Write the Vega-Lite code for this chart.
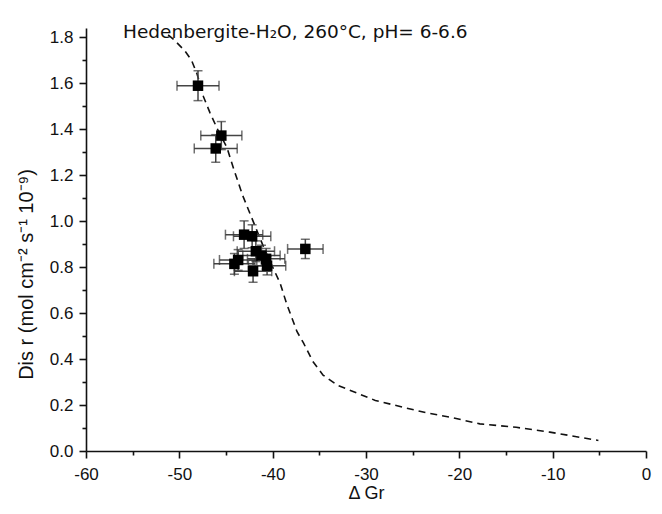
{
  "$schema": "https://vega.github.io/schema/vega-lite/v6.json",
  "width": 560,
  "height": 423,
  "autosize": "none",
  "padding": {"left": 86, "top": 28, "right": 16, "bottom": 63},
  "background": "white",
  "config": {"view": {"stroke": null}, "font": "Liberation Sans"},
  "title": {"text": "Hedenbergite-H₂O, 260°C, pH= 6-6.6", "anchor": "start", "frame": "group", "dx": 37, "dy": 20, "offset": -8, "baseline": "alphabetic", "fontSize": 18.5, "fontWeight": "normal", "font": "DejaVu Sans", "color": "#111"},
  "datasets": {
    "points": [
      {"dg": -48.0, "r": 1.589, "xlo": -50.25, "xhi": -45.75, "ylo": 1.524, "yhi": 1.654},
      {"dg": -45.5, "r": 1.372, "xlo": -47.7, "xhi": -43.3, "ylo": 1.311, "yhi": 1.433},
      {"dg": -46.1, "r": 1.316, "xlo": -48.4, "xhi": -43.8, "ylo": 1.256, "yhi": 1.376},
      {"dg": -36.5, "r": 0.879, "xlo": -38.4, "xhi": -34.6, "ylo": 0.837, "yhi": 0.921},
      {"dg": -43.06, "r": 0.941, "xlo": -45.06, "xhi": -41.06, "ylo": 0.881, "yhi": 1.001},
      {"dg": -42.2, "r": 0.934, "xlo": -44.2, "xhi": -40.2, "ylo": 0.884, "yhi": 0.984},
      {"dg": -41.8, "r": 0.869, "xlo": -43.8, "xhi": -39.8, "ylo": 0.824, "yhi": 0.914},
      {"dg": -41.2, "r": 0.85, "xlo": -43.2, "xhi": -39.2, "ylo": 0.805, "yhi": 0.895},
      {"dg": -40.7, "r": 0.836, "xlo": -42.7, "xhi": -38.7, "ylo": 0.791, "yhi": 0.881},
      {"dg": -40.6, "r": 0.806, "xlo": -42.6, "xhi": -38.6, "ylo": 0.766, "yhi": 0.846},
      {"dg": -43.7, "r": 0.831, "xlo": -45.7, "xhi": -41.7, "ylo": 0.786, "yhi": 0.876},
      {"dg": -44.1, "r": 0.814, "xlo": -46.3, "xhi": -41.9, "ylo": 0.769, "yhi": 0.859},
      {"dg": -42.1, "r": 0.782, "xlo": -44.1, "xhi": -40.1, "ylo": 0.734, "yhi": 0.83}
    ],
    "curve": [
      {"dg": -51.2, "r": 1.81},
      {"dg": -50.6, "r": 1.79},
      {"dg": -49.4, "r": 1.74},
      {"dg": -48.7, "r": 1.7},
      {"dg": -48.1, "r": 1.64},
      {"dg": -47.4, "r": 1.54},
      {"dg": -46.7, "r": 1.47},
      {"dg": -45.8, "r": 1.39},
      {"dg": -44.9, "r": 1.32},
      {"dg": -44.2, "r": 1.23},
      {"dg": -43.2, "r": 1.11},
      {"dg": -42.1, "r": 1.0},
      {"dg": -41.0, "r": 0.89},
      {"dg": -40.0, "r": 0.8},
      {"dg": -39.2, "r": 0.73},
      {"dg": -38.5, "r": 0.64},
      {"dg": -37.4, "r": 0.52},
      {"dg": -36.7, "r": 0.47},
      {"dg": -35.7, "r": 0.39},
      {"dg": -34.6, "r": 0.33},
      {"dg": -33.0, "r": 0.285},
      {"dg": -29.0, "r": 0.22},
      {"dg": -25.8, "r": 0.188},
      {"dg": -23.5, "r": 0.166},
      {"dg": -21.0, "r": 0.147},
      {"dg": -17.8, "r": 0.118},
      {"dg": -13.9, "r": 0.103},
      {"dg": -10.3, "r": 0.082},
      {"dg": -5.1, "r": 0.046}
    ]
  },
  "resolve": {"axis": {"x": "independent", "y": "independent"}},
  "layer": [
    {
      "data": {"name": "curve"},
      "mark": {"type": "line", "color": "#111", "strokeWidth": 1.6, "strokeDash": [7, 5]},
      "encoding": {
        "x": {"field": "dg", "type": "quantitative", "scale": {"domain": [-60, 0], "nice": false, "zero": false},
          "axis": {"orient": "bottom", "values": [-60, -50, -40, -30, -20, -10, 0], "labelExpr": "toString(datum.value)", "grid": false, "labelFlush": false, "labelOverlap": false, "domainColor": "#111", "domainWidth": 1.6, "tickColor": "#111", "tickWidth": 1.6, "tickSize": 7, "labelFontSize": 17, "labelColor": "#111", "labelPadding": 8, "labelFont": "Liberation Sans", "title": "Δ  Gr", "titleFontSize": 18, "titleFontWeight": "normal", "titleColor": "#111", "titleFont": "Liberation Sans", "titleBaseline": "alphabetic", "titleY": 47}},
        "y": {"field": "r", "type": "quantitative", "scale": {"domain": [0, 1.84], "nice": false, "zero": false},
          "axis": {"orient": "left", "values": [0, 0.2, 0.4, 0.6, 0.8, 1.0, 1.2, 1.4, 1.6, 1.8], "format": ".1f", "grid": false, "labelFlush": false, "labelOverlap": false, "domainColor": "#111", "domainWidth": 1.6, "tickColor": "#111", "tickWidth": 1.6, "tickSize": 7, "labelFontSize": 17, "labelColor": "#111", "labelPadding": 6, "labelFont": "Liberation Sans", "title": "Dis r (mol cm⁻² s⁻¹ 10⁻⁹)", "titleFontSize": 20, "titleFontWeight": "normal", "titleColor": "#111", "titleFont": "Liberation Sans", "titleAngle": 270, "titleBaseline": "bottom", "titleX": -50, "titleY": 246}}
      }
    },
    {
      "data": {"name": "points"},
      "mark": {"type": "rule", "color": "#444", "strokeWidth": 1.5},
      "encoding": {
        "x": {"field": "xlo", "type": "quantitative", "scale": {"domain": [-60, 0], "nice": false, "zero": false},
          "axis": {"orient": "bottom", "values": [-55, -45, -35, -25, -15, -5], "labels": false, "domain": false, "grid": false, "tickColor": "#111", "tickWidth": 1.6, "tickSize": 4, "title": null}},
        "x2": {"field": "xhi"},
        "y": {"field": "r", "type": "quantitative", "scale": {"domain": [0, 1.84], "nice": false, "zero": false},
          "axis": {"orient": "left", "values": [0.1, 0.3, 0.5, 0.7, 0.9, 1.1, 1.3, 1.5, 1.7], "labels": false, "domain": false, "grid": false, "tickColor": "#111", "tickWidth": 1.6, "tickSize": 4, "title": null}}
      }
    },
    {
      "data": {"name": "points"},
      "mark": {"type": "rule", "color": "#444", "strokeWidth": 1.5},
      "encoding": {
        "x": {"field": "dg", "type": "quantitative", "axis": null},
        "y": {"field": "ylo", "type": "quantitative", "axis": null},
        "y2": {"field": "yhi"}
      }
    },
    {
      "data": {"name": "points"},
      "mark": {"type": "tick", "orient": "vertical", "color": "#333", "size": 10, "thickness": 1.5},
      "encoding": {
        "x": {"field": "xlo", "type": "quantitative", "axis": null},
        "y": {"field": "r", "type": "quantitative", "axis": null}
      }
    },
    {
      "data": {"name": "points"},
      "mark": {"type": "tick", "orient": "vertical", "color": "#333", "size": 10, "thickness": 1.5},
      "encoding": {
        "x": {"field": "xhi", "type": "quantitative", "axis": null},
        "y": {"field": "r", "type": "quantitative", "axis": null}
      }
    },
    {
      "data": {"name": "points"},
      "mark": {"type": "tick", "orient": "horizontal", "color": "#333", "size": 9, "thickness": 1.5},
      "encoding": {
        "x": {"field": "dg", "type": "quantitative", "axis": null},
        "y": {"field": "ylo", "type": "quantitative", "axis": null}
      }
    },
    {
      "data": {"name": "points"},
      "mark": {"type": "tick", "orient": "horizontal", "color": "#333", "size": 9, "thickness": 1.5},
      "encoding": {
        "x": {"field": "dg", "type": "quantitative", "axis": null},
        "y": {"field": "yhi", "type": "quantitative", "axis": null}
      }
    },
    {
      "data": {"name": "points"},
      "mark": {"type": "point", "shape": "square", "filled": true, "color": "#000", "size": 110, "opacity": 1},
      "encoding": {
        "x": {"field": "dg", "type": "quantitative", "axis": null},
        "y": {"field": "r", "type": "quantitative", "axis": null}
      }
    }
  ]
}
